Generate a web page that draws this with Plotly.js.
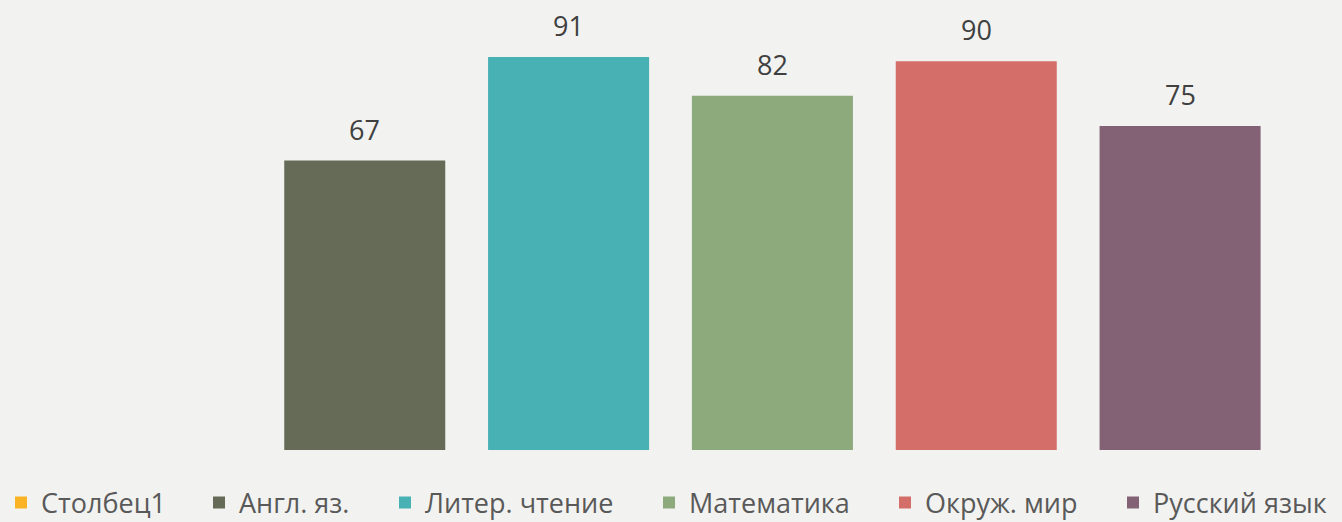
<!DOCTYPE html>
<html><head><meta charset="utf-8">
<script src="https://cdn.plot.ly/plotly-3.0.1.min.js"></script>
<style>html,body{margin:0;padding:0;background:#f2f2f0;}#c{width:1342px;height:522px;}</style>
</head><body><div id="c"></div>
<script>
const seriesNames = ["Столбец1", "Англ. яз.", "Литер. чтение", "Математика", "Окруж. мир", "Русский язык"];
const seriesValues = [null, 67, 91, 82, 90, 75];
const seriesColors = ["#F9B324", "#666B58", "#48B1B4", "#8DAA7D", "#D46E69", "#836275"];

const legendIds = ["legend", "legend2", "legend3", "legend4", "legend5", "legend6"];
const legendLeftPx = [1, 199, 385, 649, 885, 1113];

const traces = seriesNames.map((n, i) => ({
  type: "bar",
  name: n,
  x: [n],
  y: [seriesValues[i]],
  marker: {color: seriesColors[i]},
  legend: legendIds[i],
  hoverinfo: "skip"
}));

const annotations = [];
seriesNames.forEach((n, i) => {
  if (seriesValues[i] === null) return;
  annotations.push({
    x: n, y: seriesValues[i], xref: "x", yref: "y",
    text: String(seriesValues[i]), showarrow: false,
    yanchor: "bottom", yshift: 11,
    font: {family: "'Open Sans', sans-serif", size: 27, color: "#404040"}
  });
});

const layout = {
  width: 1342, height: 522,
  paper_bgcolor: "#f2f2f0", plot_bgcolor: "#f2f2f0",
  margin: {l: 58.5, r: 59.5, t: 18, b: 72},
  barmode: "overlay",
  bargap: 0.21,
  showlegend: true,
  annotations: annotations,
  xaxis: {visible: false, type: "category", categoryorder: "array", categoryarray: seriesNames,
          range: [-0.5, seriesNames.length - 0.5], showgrid: false, zeroline: false},
  yaxis: {visible: false, range: [0, 100], showgrid: false, zeroline: false},
  font: {family: "'Open Sans', sans-serif"}
};
legendIds.forEach((id, i) => {
  layout[id] = {
    orientation: "h", xref: "container", yref: "container",
    x: legendLeftPx[i] / 1342, xanchor: "left",
    y: (522 - 503) / 522, yanchor: "middle",
    bgcolor: "rgba(0,0,0,0)",
    font: {family: "'Open Sans', sans-serif", size: 27, color: "#595959"},
    itemwidth: 30
  };
});
Plotly.newPlot("c", traces, layout, {displayModeBar: false, staticPlot: true});
</script></body></html>
